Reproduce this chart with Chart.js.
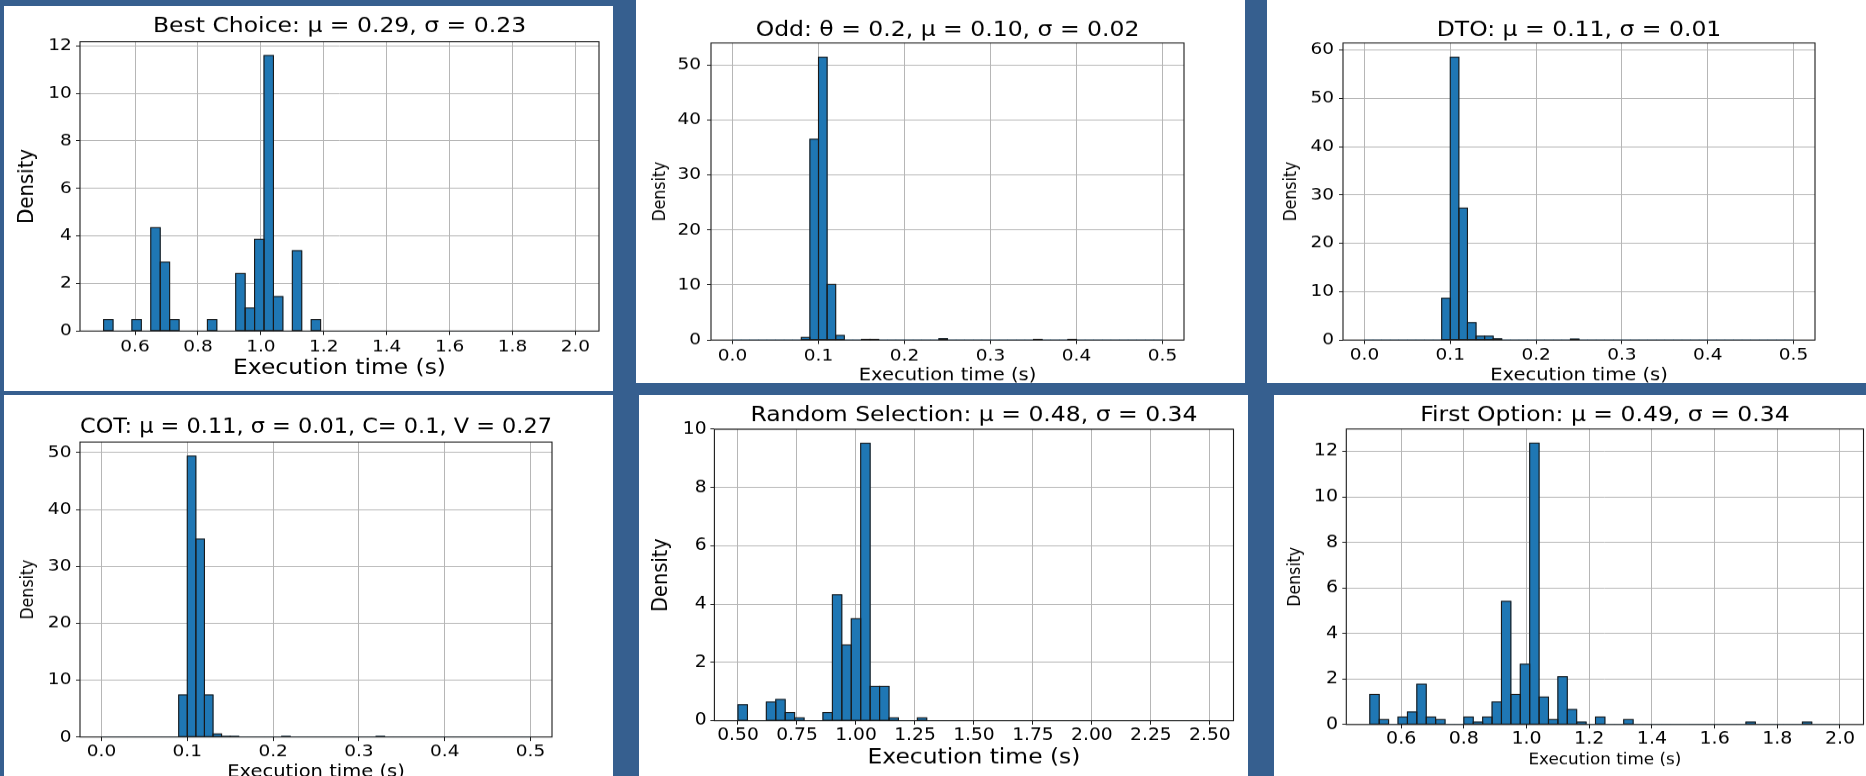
<!DOCTYPE html>
<html>
<head>
<meta charset="utf-8">
<title>Execution time histograms</title>
<script src="https://cdn.jsdelivr.net/npm/chart.js@4.4.1/dist/chart.umd.min.js"></script>
<style>
  html, body { margin: 0; padding: 0; }
  body { width: 1866px; height: 776px; background: #365f8f; position: relative; overflow: hidden; }
  .panel { position: absolute; background: #fff; overflow: hidden; }
  .stage { position: absolute; left: 0; top: 0; transform-origin: 0 0; }
  canvas { display: block; }
</style>
</head>
<body>
<script>
// ---- Histogram data: density per bin, 50 bins each ----

// Best Choice: bins of 0.03 s starting at 0.50 s
const bestChoiceStart = 0.5;
const bestChoiceWidth = 0.03;
const bestChoiceDensity = [
  0.48, 0, 0, 0.48, 0, 4.35, 2.90, 0.48, 0, 0,
  0, 0.48, 0, 0, 2.42, 0.97, 3.86, 11.59, 1.45, 0,
  3.38, 0, 0.48, 0, 0, 0, 0, 0, 0, 0,
  0, 0, 0, 0, 0, 0, 0, 0, 0, 0,
  0, 0, 0, 0, 0, 0, 0, 0, 0, 0
];

// Odd (θ = 0.2): bins of 0.01 s starting at 0.00 s
const oddStart = 0;
const oddWidth = 0.01;
const oddDensity = [
  0, 0, 0, 0, 0, 0, 0, 0, 0.48, 36.5,
  51.4, 10.1, 0.84, 0, 0, 0.12, 0.12, 0, 0, 0,
  0, 0, 0, 0, 0.24, 0, 0, 0, 0, 0,
  0, 0, 0, 0, 0, 0.12, 0, 0, 0, 0.12,
  0, 0, 0, 0, 0, 0, 0, 0, 0, 0
];

// DTO: bins of 0.01 s starting at 0.00 s
const dtoStart = 0;
const dtoWidth = 0.01;
const dtoDensity = [
  0, 0, 0, 0, 0, 0, 0, 0, 0, 8.65,
  58.5, 27.3, 3.6, 0.8, 0.8, 0.25, 0, 0, 0, 0,
  0, 0, 0, 0, 0.2, 0, 0, 0, 0, 0,
  0, 0, 0, 0, 0, 0, 0, 0, 0, 0,
  0, 0, 0, 0, 0, 0, 0, 0, 0, 0
];

// COT: bins of 0.01 s starting at 0.00 s
const cotStart = 0;
const cotWidth = 0.01;
const cotDensity = [
  0, 0, 0, 0, 0, 0, 0, 0, 0, 7.4,
  49.4, 34.8, 7.4, 0.55, 0.12, 0.12, 0, 0, 0, 0,
  0, 0.12, 0, 0, 0, 0, 0, 0, 0, 0,
  0, 0, 0.12, 0, 0, 0, 0, 0, 0, 0,
  0, 0, 0, 0, 0, 0, 0, 0, 0, 0
];

// Random Selection: bins of 0.04 s starting at 0.50 s
const randomStart = 0.5;
const randomWidth = 0.04;
const randomDensity = [
  0.55, 0, 0, 0.64, 0.73, 0.28, 0.1, 0, 0, 0.28,
  4.32, 2.6, 3.5, 9.52, 1.18, 1.18, 0.1, 0, 0, 0.1,
  0, 0, 0, 0, 0, 0, 0, 0, 0, 0,
  0, 0, 0, 0, 0, 0, 0, 0, 0, 0,
  0, 0, 0, 0, 0, 0, 0, 0, 0, 0
];

// First Option: bins of 0.03 s starting at 0.50 s
const firstStart = 0.5;
const firstWidth = 0.03;
const firstDensity = [
  1.32, 0.22, 0, 0.33, 0.55, 1.77, 0.33, 0.22, 0, 0,
  0.33, 0.11, 0.33, 0.99, 5.41, 1.32, 2.65, 12.36, 1.21, 0.22,
  2.10, 0.66, 0.11, 0, 0.33, 0, 0, 0.22, 0, 0,
  0, 0, 0, 0, 0, 0, 0, 0, 0, 0,
  0.11, 0, 0, 0, 0, 0, 0.11, 0, 0, 0
];

// ---- Tick labels ----
const ticksTenths = ['0.0', '0.1', '0.2', '0.3', '0.4', '0.5'];
const ticksFifths = ['0.6', '0.8', '1.0', '1.2', '1.4', '1.6', '1.8', '2.0'];
const ticksQuarters = ['0.50', '0.75', '1.00', '1.25', '1.50', '1.75', '2.00', '2.25', '2.50'];
const yTicksTo12 = ['0', '2', '4', '6', '8', '10', '12'];
const yTicksTo10 = ['0', '2', '4', '6', '8', '10'];
const yTicksTo50 = ['0', '10', '20', '30', '40', '50'];
const yTicksTo60 = ['0', '10', '20', '30', '40', '50', '60'];

// ---- Titles ----
const titles = [
  'Best Choice: μ = 0.29, σ = 0.23',
  'Odd: θ = 0.2, μ = 0.10, σ = 0.02',
  'DTO: μ = 0.11, σ = 0.01',
  'COT: μ = 0.11, σ = 0.01, C= 0.1, V = 0.27',
  'Random Selection: μ = 0.48, σ = 0.34',
  'First Option: μ = 0.49, σ = 0.34'
];
const xAxisLabel = 'Execution time (s)';
const yAxisLabel = 'Density';

// ---- Styling ----
const FONT = "'DejaVu Sans', sans-serif";
const BAR = '#1f77b4';
const INK = '#1a1a1a';
const GRID = '#b6b6b6';
const SQUASH = 0.9;   // vertical compression of each figure
const TICK_LEN = 4;

// Panel frames (page px) and the axes box inside each one
const layouts = [
  { x: 4, y: 6, w: 609, h: 385, L: 76, R: 595, T: 35.7, B: 325, titleCy: 20.2, xtickCy: 341, xlabelCy: 362, ylabelCx: 25.7, ytickGap: 9.3, titleSize: 23.5, tickSize: 18.5, xlabelSize: 23.4, ylabelSize: 22 },
  { x: 636, y: 0, w: 609, h: 383, L: 75, R: 548, T: 43, B: 340, titleCy: 30.7, xtickCy: 356, xlabelCy: 376, ylabelCx: 26.2, ytickGap: 11, titleSize: 23.5, tickSize: 18.5, xlabelSize: 19.5, ylabelSize: 17.5 },
  { x: 1267, y: 0, w: 599, h: 383, L: 76, R: 548, T: 43, B: 340, titleCy: 30.3, xtickCy: 355, xlabelCy: 376, ylabelCx: 25.8, ytickGap: 10, titleSize: 23.5, tickSize: 18.5, xlabelSize: 19.5, ylabelSize: 17.5 },
  { x: 4, y: 395, w: 609, h: 381, L: 76, R: 548, T: 47, B: 342, titleCy: 32.4, xtickCy: 357, xlabelCy: 377, ylabelCx: 26, ytickGap: 9.6, titleSize: 23.5, tickSize: 18.5, xlabelSize: 19.5, ylabelSize: 17.5 },
  { x: 639, y: 395, w: 609, h: 381, L: 75.4, R: 594.5, T: 34.3, B: 325.7, titleCy: 20.8, xtickCy: 340.7, xlabelCy: 362.7, ylabelCx: 24.2, ytickGap: 8.8, titleSize: 23.5, tickSize: 18.7, xlabelSize: 23.4, ylabelSize: 21.5 },
  { x: 1274, y: 395, w: 592, h: 381, L: 72.3, R: 589.5, T: 34, B: 329.5, titleCy: 20.8, xtickCy: 344, xlabelCy: 365, ylabelCx: 22.8, ytickGap: 9.3, titleSize: 23.5, tickSize: 19, xlabelSize: 16.8, ylabelSize: 17.5 }
];

const series = [
  { start: bestChoiceStart, width: bestChoiceWidth, density: bestChoiceDensity, xTicks: ticksFifths, yTicks: yTicksTo12 },
  { start: oddStart, width: oddWidth, density: oddDensity, xTicks: ticksTenths, yTicks: yTicksTo50 },
  { start: dtoStart, width: dtoWidth, density: dtoDensity, xTicks: ticksTenths, yTicks: yTicksTo60 },
  { start: cotStart, width: cotWidth, density: cotDensity, xTicks: ticksTenths, yTicks: yTicksTo50 },
  { start: randomStart, width: randomWidth, density: randomDensity, xTicks: ticksQuarters, yTicks: yTicksTo10 },
  { start: firstStart, width: firstWidth, density: firstDensity, xTicks: ticksFifths, yTicks: yTicksTo12 }
];

// Black outlines around every non-empty bin, stroked on the bin edges
const binEdges = {
  id: 'binEdges',
  afterDatasetsDraw(chart) {
    const { ctx, chartArea } = chart;
    const meta = chart.getDatasetMeta(0);
    const values = chart.data.datasets[0].data;
    ctx.save();
    ctx.beginPath();
    ctx.rect(chartArea.left - 1, chartArea.top - 1, chartArea.width + 2, chartArea.height + 2);
    ctx.clip();
    ctx.strokeStyle = INK;
    ctx.lineWidth = 1.1;
    meta.data.forEach((bar, i) => {
      if (!(values[i].y > 0)) return;
      const p = bar.getProps(['x', 'y', 'base', 'width'], true);
      ctx.strokeRect(p.x - p.width / 2, p.y, p.width, p.base - p.y);
    });
    ctx.restore();
  }
};

// Four-sided axes frame
const axesFrame = {
  id: 'axesFrame',
  afterDraw(chart) {
    const { ctx, chartArea: a } = chart;
    ctx.save();
    ctx.strokeStyle = INK;
    ctx.lineWidth = 1.1;
    ctx.strokeRect(a.left, a.top, a.width, a.height);
    ctx.restore();
  }
};

function buildPanel(title, s, b) {
  const panel = document.createElement('div');
  panel.className = 'panel';
  Object.assign(panel.style, { left: b.x + 'px', top: b.y + 'px', width: b.w + 'px', height: b.h + 'px' });

  const Hc = Math.round(b.h / SQUASH);
  const fy = b.h / Hc;
  const cy = v => v / fy;

  const stage = document.createElement('div');
  stage.className = 'stage';
  Object.assign(stage.style, { width: b.w + 'px', height: Hc + 'px', transform: `scaleY(${fy})` });
  const canvas = document.createElement('canvas');
  canvas.width = b.w;
  canvas.height = Hc;
  canvas.style.width = b.w + 'px';
  canvas.style.height = Hc + 'px';
  stage.appendChild(canvas);
  panel.appendChild(stage);
  document.body.appendChild(panel);

  const n = s.density.length;
  const lo = s.start;
  const hi = s.start + n * s.width;
  const margin = 0.05 * (hi - lo);
  const points = s.density.map((d, i) => ({ x: s.start + (i + 0.5) * s.width, y: d }));
  const yMax = Math.max(...s.density) * 1.05;

  new Chart(canvas, {
    type: 'bar',
    data: {
      datasets: [{
        data: points,
        backgroundColor: BAR,
        borderWidth: 0,
        barPercentage: 1,
        categoryPercentage: 1
      }]
    },
    options: {
      responsive: false,
      animation: false,
      devicePixelRatio: 1,
      events: [],
      layout: { padding: { left: 0, top: 0, right: b.w - b.R, bottom: 0 } },
      plugins: {
        legend: { display: false },
        tooltip: { enabled: false },
        title: {
          display: true,
          text: title,
          fullSize: false,
          color: '#000',
          font: { family: FONT, size: b.titleSize, weight: 'normal', lineHeight: 1 },
          padding: { top: cy(b.titleCy) - b.titleSize / 2, bottom: cy(b.T) - cy(b.titleCy) - b.titleSize / 2 }
        }
      },
      scales: {
        x: {
          type: 'linear',
          min: lo - margin,
          max: hi + margin,
          offset: false,
          z: 1,
          grid: { offset: false, color: GRID, lineWidth: 1, drawTicks: true, tickLength: cy(TICK_LEN), tickColor: INK, tickWidth: 1 },
          border: { display: false },
          ticks: {
            color: '#000',
            font: { family: FONT, size: b.tickSize, lineHeight: 1 },
            padding: cy(b.xtickCy) - cy(b.B) - cy(TICK_LEN) - b.tickSize / 2,
            maxRotation: 0,
            autoSkip: false,
            callback: (v, i) => s.xTicks[i]
          },
          afterBuildTicks: sc => { sc.ticks = s.xTicks.map(t => ({ value: parseFloat(t) })); },
          afterFit: sc => { sc.height = Hc - cy(b.B); },
          title: {
            display: true,
            text: xAxisLabel,
            color: '#000',
            font: { family: FONT, size: b.xlabelSize, lineHeight: 1 },
            padding: { top: 0, bottom: Hc - cy(b.xlabelCy) - b.xlabelSize / 2 }
          }
        },
        y: {
          type: 'linear',
          min: 0,
          max: yMax,
          z: 1,
          grid: { color: GRID, lineWidth: 1, drawTicks: true, tickLength: TICK_LEN, tickColor: INK, tickWidth: 1 },
          border: { display: false },
          ticks: {
            color: '#000',
            font: { family: FONT, size: b.tickSize, lineHeight: 1 },
            padding: b.ytickGap - TICK_LEN - 1,
            autoSkip: false,
            callback: (v, i) => s.yTicks[i]
          },
          afterBuildTicks: sc => { sc.ticks = s.yTicks.map(t => ({ value: parseFloat(t) })); },
          afterFit: sc => { sc.width = b.L; },
          title: {
            display: true,
            text: yAxisLabel,
            color: '#000',
            font: { family: FONT, size: b.ylabelSize, lineHeight: 1 },
            padding: { top: b.ylabelCx - 0.1 * b.ylabelSize - b.ylabelSize / 2, bottom: 0 }
          }
        }
      }
    },
    plugins: [binEdges, axesFrame]
  });
}

titles.forEach((t, i) => buildPanel(t, series[i], layouts[i]));
</script>
</body>
</html>
